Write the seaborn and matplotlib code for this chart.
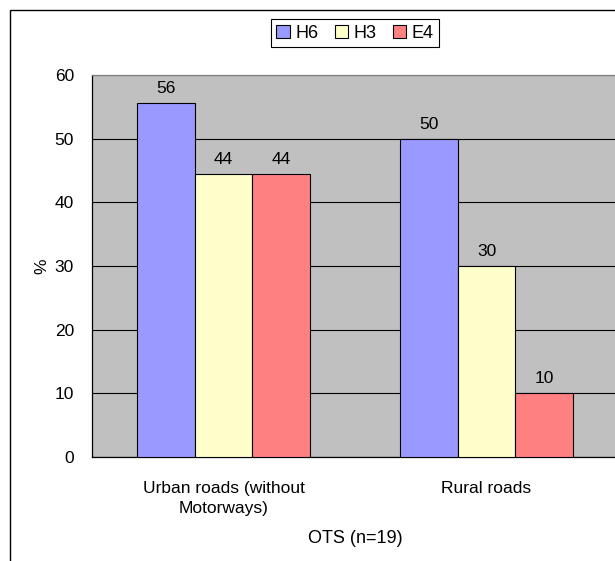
import matplotlib
matplotlib.use("Agg")
import matplotlib.pyplot as plt
import seaborn as sns
import pandas as pd
from matplotlib.patches import Rectangle

# data
roads = ["Urban roads (without\nMotorways)", "Rural roads"]
groups = ["H6", "H3", "E4"]
h6 = [55.6, 50.0]
h3 = [44.4, 30.0]
e4 = [44.4, 10.0]
colors = ["#9999FF", "#FFFFCC", "#FF8080"]

df = pd.DataFrame({
    "road": roads * 3,
    "group": [g for g in groups for _ in roads],
    "value": h6 + h3 + e4,
})

sns.set_style("white")
plt.rcParams["font.family"] = ["Liberation Sans", "DejaVu Sans"]
plt.rcParams["text.color"] = "black"
plt.rcParams["xtick.color"] = "black"
plt.rcParams["ytick.color"] = "black"
plt.rcParams["axes.labelcolor"] = "black"

fs = 12.5

fig = plt.figure(figsize=(6.15, 5.61), dpi=100)
ax = fig.add_axes([92 / 615, 104 / 561, 526 / 615, 382 / 561])

sns.barplot(data=df, x="road", y="value", hue="group", palette=colors,
            width=0.66, edgecolor="black", linewidth=0.8, saturation=1,
            errorbar=None, ax=ax, zorder=3)

for c in ax.containers:
    ax.bar_label(c, fmt="%.0f", padding=5, fontsize=fs)

ax.set_facecolor("#C0C0C0")
ax.set_ylim(0, 60)
ax.set_xlim(-0.5, 1.5)
ax.set_yticks(range(0, 61, 10))
ax.grid(axis="y", color="black", linewidth=0.8, zorder=1)
ax.set_axisbelow(True)

ax.set_xticks([0, 1])
ax.set_xticklabels(roads, fontsize=fs, linespacing=1.45)
ax.set_xticks([0.5], minor=True)
ax.tick_params(axis="x", which="major", length=0, pad=17)
ax.tick_params(axis="x", which="minor", length=5, width=0.8, color="black")
ax.tick_params(axis="y", length=5, width=0.8, color="black", labelsize=fs, pad=8)

ax.set_ylabel("%", fontsize=fs, labelpad=4)
ax.set_xlabel("OTS (n=19)", fontsize=13, labelpad=10)

for side in ["top", "right"]:
    ax.spines[side].set_color("#808080")
for side in ["left", "bottom"]:
    ax.spines[side].set_color("black")
for s in ax.spines.values():
    s.set_linewidth(0.9)
    s.set_visible(True)

ax.legend(loc="upper center", bbox_to_anchor=(0.5, 1.17), ncol=3, frameon=True,
          fancybox=False, edgecolor="black", fontsize=13, handlelength=0.75,
          handleheight=0.75, handletextpad=0.3, columnspacing=0.9,
          borderpad=0.3, framealpha=1)
ax.get_legend().get_frame().set_linewidth(0.8)

# chart area border (clipped at right/bottom in the source image)
fig.patches.append(Rectangle((10 / 615, -0.1), 1.2, (551 / 561) + 0.1,
                             transform=fig.transFigure, fill=False,
                             edgecolor="black", linewidth=1.0))

fig.savefig("out.png", dpi=100)
